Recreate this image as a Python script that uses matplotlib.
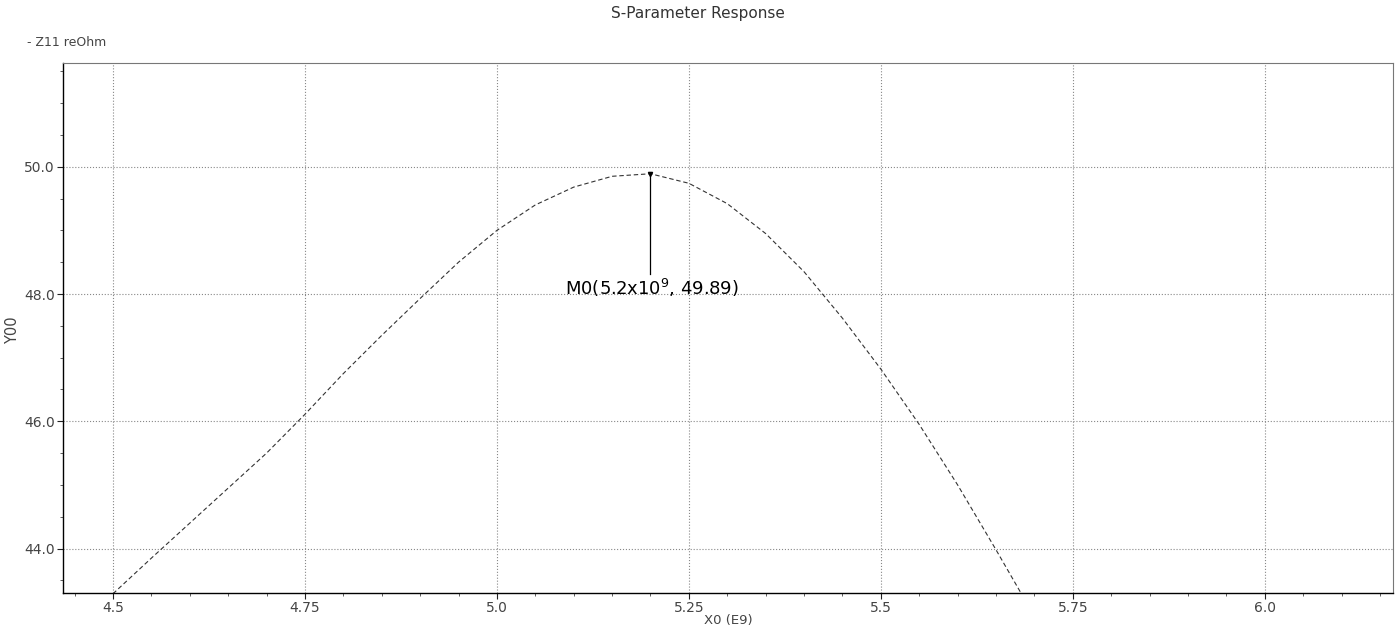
import matplotlib
matplotlib.use('Agg')
import matplotlib.pyplot as plt
from matplotlib.ticker import FixedLocator, MultipleLocator

freq = [4.50, 4.55, 4.60, 4.65, 4.70, 4.75, 4.80, 4.85, 4.90, 4.95,
        5.00, 5.05, 5.10, 5.15, 5.20, 5.25, 5.30, 5.35, 5.40, 5.45,
        5.50, 5.55, 5.60, 5.65, 5.683]
z11_re = [43.29, 43.85, 44.40, 44.95, 45.50, 46.11, 46.75, 47.35, 47.93, 48.50,
          49.00, 49.40, 49.68, 49.85, 49.89, 49.74, 49.42, 48.95, 48.35, 47.62,
          46.82, 45.95, 45.00, 43.98, 43.29]

x_ticks = [4.5, 4.75, 5.0, 5.25, 5.5, 5.75, 6.0]
x_tick_labels = ['4.5', '4.75', '5.0', '5.25', '5.5', '5.75', '6.0']
y_ticks = [44.0, 46.0, 48.0, 50.0]
y_tick_labels = ['44.0', '46.0', '48.0', '50.0']

marker_x = 5.2
marker_y = 49.89
marker_label = 'M0(5.2x10$^{9}$, 49.89)'

fig = plt.figure(figsize=(13.95, 6.27), dpi=100)
ax = fig.add_axes([0.0452, 0.054, 0.9534, 0.8455])

ax.plot(freq, z11_re, color='#333333', lw=0.8, linestyle=(0, (4, 2.5)))

# marker M0
ax.plot([marker_x, marker_x], [48.32, marker_y], color='black', lw=0.9)
ax.plot([marker_x], [marker_y], marker='v', ms=3, color='black')
ax.text(5.089, 48.1, marker_label, fontsize=13, color='black', va='center', ha='left')

ax.set_xlim(4.435, 6.167)
ax.set_ylim(43.3, 51.63)
ax.xaxis.set_major_locator(FixedLocator(x_ticks))
ax.set_xticklabels(x_tick_labels)
ax.xaxis.set_minor_locator(MultipleLocator(0.05))
ax.yaxis.set_major_locator(FixedLocator(y_ticks))
ax.set_yticklabels(y_tick_labels)
ax.yaxis.set_minor_locator(MultipleLocator(0.5))

ax.tick_params(which='major', direction='out', length=4, width=0.8, labelsize=10,
               colors='#222222', labelcolor='#444444', pad=2)
ax.tick_params(which='minor', direction='out', length=2, width=0.6, colors='#444444')

ax.grid(True, which='major', color='#888888', linestyle=':', lw=0.8)

for side in ['left', 'bottom']:
    ax.spines[side].set_color('black')
    ax.spines[side].set_linewidth(1.0)
for side in ['top', 'right']:
    ax.spines[side].set_color('#777777')
    ax.spines[side].set_linewidth(0.8)

fig.text(0.5, 0.978, 'S-Parameter Response', ha='center', va='center', fontsize=11, color='#333333')
fig.text(0.019, 0.933, '- Z11 reOhm', ha='left', va='center', fontsize=9, color='#444444')
fig.text(0.009, 0.474, 'Y00', rotation=90, ha='center', va='center', fontsize=10.5, color='#444444')
fig.text(0.522, 0.011, 'X0 (E9)', ha='center', va='center', fontsize=9.5, color='#444444')

fig.savefig('out.png', dpi=100)
